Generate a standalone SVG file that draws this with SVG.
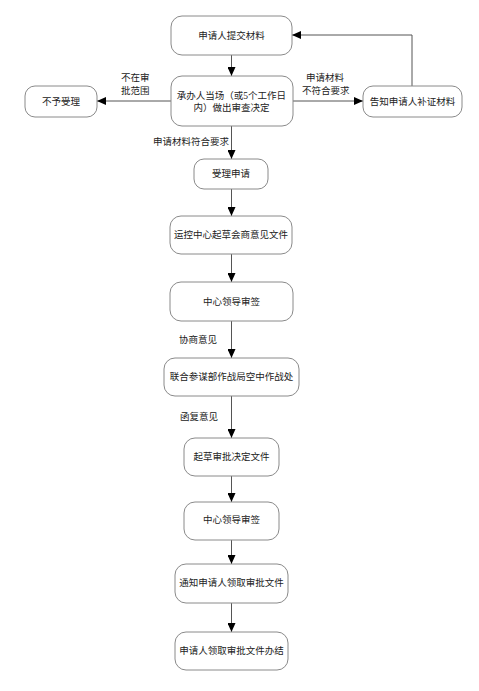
<svg xmlns="http://www.w3.org/2000/svg" width="479" height="691" viewBox="0 0 479 691">
<defs>
<marker id="ah" markerUnits="userSpaceOnUse" markerWidth="10" markerHeight="8" refX="9" refY="4" orient="auto">
<path d="M0,0 L9,4 L0,8 Z" fill="#000"/>
</marker>
<style>
.box{fill:#fff;stroke:#8a8a8a;stroke-width:1}
.t{font-family:"Liberation Serif","Noto Sans CJK SC",serif;font-size:9.5px;fill:#222;text-anchor:middle;dominant-baseline:central}
.l{font-family:"Liberation Serif","Noto Sans CJK SC",serif;font-size:9.5px;fill:#222;dominant-baseline:central}
.c{fill:none;stroke:#555;stroke-width:1;marker-end:url(#ah)}
</style>
</defs>
<rect width="479" height="691" fill="#fff"/>
<g id="connectors">
<path class="c" d="M231.5,55 V76"/>
<path class="c" d="M171,101 H97"/>
<path class="c" d="M293,101 H363"/>
<path class="c" d="M412,86 V35 H292"/>
<path class="c" d="M231.5,126 V159"/>
<path class="c" d="M231.5,189 V216"/>
<path class="c" d="M231.5,254 V282"/>
<path class="c" d="M231.5,321 V358"/>
<path class="c" d="M231.5,396 V438"/>
<path class="c" d="M231.5,476 V502"/>
<path class="c" d="M231.5,540 V564"/>
<path class="c" d="M231.5,603 V632"/>
<text class="l" x="121" y="78">不在审</text>
<text class="l" x="121" y="91">批范围</text>
<text class="l" x="306" y="78">申请材料</text>
<text class="l" x="302" y="91">不符合要求</text>
<text class="l" x="153" y="142">申请材料符合要求</text>
<text class="l" x="179" y="340">协商意见</text>
<text class="l" x="180" y="417">函复意见</text>
</g>
<g id="n1"><rect class="box" x="171" y="16" width="121" height="39" rx="11"/><text class="t" x="231.5" y="35.5">申请人提交材料</text></g>
<g id="n2"><rect class="box" x="171" y="76" width="122" height="50" rx="11"/><text class="t" x="231.5" y="96">承办人当场（或5个工作日</text><text class="t" x="231.5" y="108">内）做出审查决定</text></g>
<g id="n3"><rect class="box" x="25" y="86" width="72" height="31" rx="10"/><text class="t" x="61" y="101.5">不予受理</text></g>
<g id="n4"><rect class="box" x="363" y="86" width="99" height="31" rx="10"/><text class="t" x="412.5" y="101.5">告知申请人补证材料</text></g>
<g id="n5"><rect class="box" x="194" y="159" width="74" height="30" rx="10"/><text class="t" x="231" y="174">受理申请</text></g>
<g id="n6"><rect class="box" x="170" y="216" width="122" height="38" rx="11"/><text class="t" x="231" y="235">运控中心起草会商意见文件</text></g>
<g id="n7"><rect class="box" x="170" y="282" width="123" height="39" rx="11"/><text class="t" x="231.5" y="301.5">中心领导审签</text></g>
<g id="n8"><rect class="box" x="164" y="358" width="135" height="38" rx="11"/><text class="t" x="231.5" y="377">联合参谋部作战局空中作战处</text></g>
<g id="n9"><rect class="box" x="184" y="438" width="95" height="38" rx="11"/><text class="t" x="231.5" y="457">起草审批决定文件</text></g>
<g id="n10"><rect class="box" x="184" y="502" width="95" height="38" rx="11"/><text class="t" x="231.5" y="520">中心领导审签</text></g>
<g id="n11"><rect class="box" x="175" y="564" width="113" height="39" rx="11"/><text class="t" x="231.5" y="583">通知申请人领取审批文件</text></g>
<g id="n12"><rect class="box" x="175" y="632" width="113" height="38" rx="11"/><text class="t" x="231.5" y="651">申请人领取审批文件办结</text></g>
</svg>
